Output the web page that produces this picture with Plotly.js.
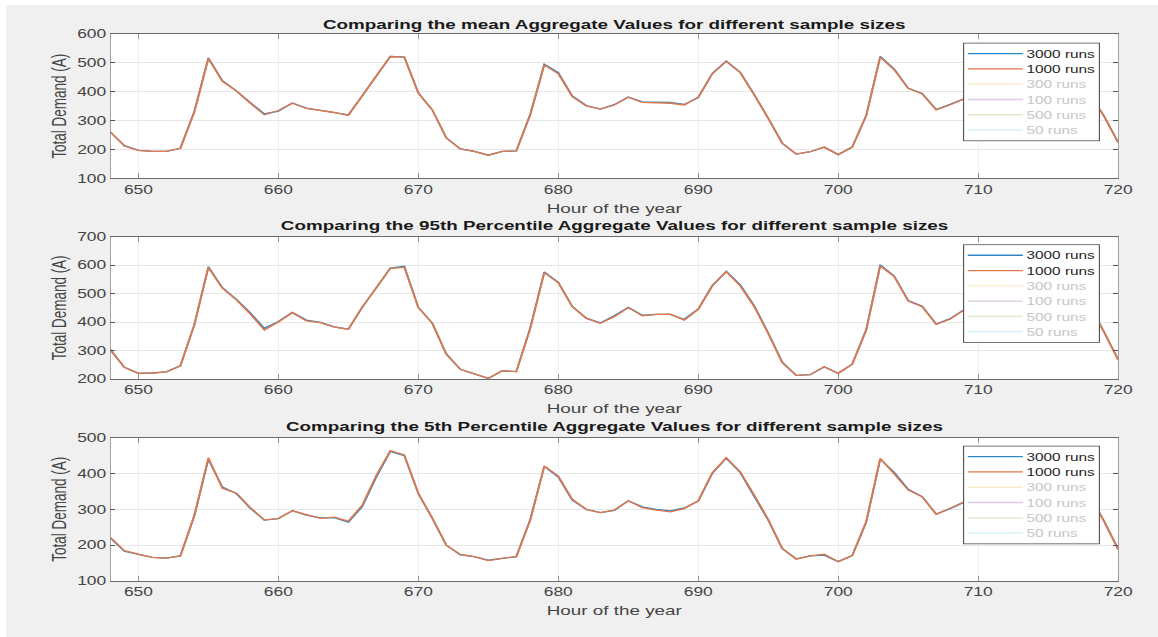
<!DOCTYPE html>
<html>
<head>
<meta charset="utf-8">
<script src="https://cdn.plot.ly/plotly-3.0.1.min.js"></script>
<style>
  html, body { margin: 0; padding: 0; background: #ffffff; overflow: hidden; width: 1158px; height: 637px; }
  #plot { position: absolute; left: 6px; top: 5px; transform-origin: 0 0; }
</style>
</head>
<body>
<div id="plot"></div>
<script>
// ---------------- DATA ----------------
const hours = [648,649,650,651,652,653,654,655,656,657,658,659,660,661,662,663,664,665,666,667,668,669,
  670,671,672,673,674,675,676,677,678,679,680,681,682,683,684,685,686,687,688,689,690,691,692,693,694,695,
  696,697,698,699,700,701,702,703,704,705,706,707,708,709,710,711,712,713,714,715,716,717,718,719,720];

// Mean aggregate values
const mean1000 = [260,212,197,193,193,204,330,515,436,402,360,320,335,360,342,335,328,318,387,455,522,520,
  395,337,240,202,193,180,193,195,320,493,462,383,351,340,354,381,363,361,360,354,381,462,505,466,389,308,
  221,184,192,208,182,208,316,520,476,412,392,337,355,375,365,362,360,355,380,460,505,465,390,314,224];
const mean3000 = [260,213,197,193,193,204,332,517,438,403,362,323,333,361,343,335,328,320,386,454,522,520,
  396,337,240,202,193,180,193,195,322,495,466,385,352,340,355,382,365,364,363,356,380,463,506,467,390,308,
  222,184,192,208,182,208,318,522,478,412,394,338,356,376,366,363,361,356,381,461,506,466,391,315,225];

// 95th percentile aggregate values
const p95_1000 = [302,241,220,221,225,246,390,592,519,478,428,372,400,433,404,398,382,375,454,520,589,592,
  451,396,287,234,218,202,229,226,378,574,538,454,413,396,419,451,422,427,428,407,445,527,577,527,454,360,
  257,213,215,243,220,252,372,597,560,474,454,392,411,442,425,428,430,410,448,530,580,530,455,364,267];
const p95_3000 = [303,241,220,221,225,246,392,594,521,480,432,378,402,434,407,399,383,375,452,522,590,596,
  452,396,288,234,218,202,229,226,380,576,540,455,414,397,422,452,424,427,427,410,446,528,578,531,457,362,
  259,213,215,243,220,252,373,601,562,476,456,393,412,444,426,429,431,411,449,531,581,531,456,365,268];

// 5th percentile aggregate values
const p5_1000 = [221,185,175,166,164,170,284,444,359,345,305,270,275,296,285,275,278,267,312,395,464,452,
  345,275,200,174,168,157,163,168,270,421,393,328,300,291,298,324,305,298,293,302,324,402,444,405,340,272,
  191,161,170,175,154,171,266,442,399,354,335,286,303,321,305,298,295,300,322,400,440,402,338,266,188];
const p5_3000 = [220,183,174,166,164,170,282,440,362,344,303,270,274,296,284,276,277,264,308,390,462,450,
  344,275,200,173,168,158,163,168,272,420,390,326,300,291,297,324,307,300,296,304,323,400,443,403,336,270,
  190,162,170,172,154,171,264,440,403,356,335,287,302,320,306,299,296,301,321,399,441,401,337,267,189];

const seriesNames = ['3000 runs','1000 runs','300 runs','100 runs','500 runs','50 runs'];
const seriesColors = ['#2E86C8','#E2774A','#EDB120','#7E2F8E','#77AC30','#4DBEEE'];

const panelTitles = [
  'Comparing the mean Aggregate Values for different sample sizes',
  'Comparing the 95th Percentile Aggregate Values for different sample sizes',
  'Comparing the 5th Percentile Aggregate Values for different sample sizes'
];
const yRanges = [[100,600],[200,700],[100,500]];
const xTicks = [650,660,670,680,690,700,710,720];
const xLabel = 'Hour of the year';
const yLabel = 'Total Demand (A)';

// ---------------- RENDER SCALING (reference image is stretched horizontally) ----------------
const S = 2;                   // vertical oversampling
const KX = 1.45 / S;           // horizontal css scale
const KY = 1 / S;              // vertical css scale
const PAGE_W = 1152.75, PAGE_H = 632;
const RW = PAGE_W / KX, RH = PAGE_H / KY;
const hx = v => v / KX;        // page px (horizontal) -> render px
const vy = v => v * S;         // page px (vertical)   -> render px
const plotDiv = document.getElementById('plot');
plotDiv.style.width = RW + 'px';
plotDiv.style.height = RH + 'px';
plotDiv.style.transform = 'scale(' + KX + ',' + KY + ')';

// ---------------- BUILD ----------------
const panels = [[mean3000, mean1000],[p95_3000, p95_1000],[p5_3000, p5_1000]];
const FONT = '"Liberation Sans", Arial, Helvetica, sans-serif';
const traces = [];
panels.forEach((pair, p) => {
  const sfx = p === 0 ? '' : String(p + 1);
  seriesNames.forEach((nm, i) => {
    const hasData = i < 2;
    traces.push({
      type: 'scatter', mode: 'lines',
      x: hasData ? hours : [null],
      y: hasData ? pair[i] : [null],
      name: hasData ? nm : '<span style="color:#c6c6c6">' + nm + '</span>',
      xaxis: 'x' + sfx, yaxis: 'y' + sfx,
      legend: 'legend' + sfx,
      showlegend: true,
      line: { color: seriesColors[i], width: 2.6 },
      opacity: hasData ? 1 : 0.25,
      hoverinfo: 'skip'
    });
  });
});

const domainsY = [[0.7362, 1], [0.3693, 0.6294], [0, 0.2620]];
const titleY = [1.0165, 0.649, 0.2815];
const legendY = [0.9841, 0.6155, 0.2473];

const layout = {
  width: RW, height: RH,
  margin: { l: hx(104.5), r: hx(40.75), t: vy(29), b: vy(56) },
  paper_bgcolor: '#f0f0f0',
  plot_bgcolor: '#ffffff',
  font: { family: FONT, color: '#404040', size: vy(12) },
  showlegend: true,
  annotations: [],
  hovermode: false
};

for (let p = 0; p < 3; p++) {
  const sfx = p === 0 ? '' : String(p + 1);
  layout['xaxis' + sfx] = {
    domain: [0, 1], anchor: 'y' + sfx,
    range: [648, 720], tickvals: xTicks, ticktext: xTicks.map(String),
    ticks: 'inside', ticklen: vy(5), tickcolor: '#555555', tickwidth: 1,
    showline: true, linecolor: '#6a6a6a', linewidth: 2, mirror: 'ticks',
    showgrid: true, gridcolor: '#e6e6e6', gridwidth: 1, zeroline: false,
    tickfont: { family: FONT, size: vy(12), color: '#444444' },
    title: { text: xLabel, font: { family: FONT, size: vy(13), color: '#444444' }, standoff: vy(8) }
  };
  layout['yaxis' + sfx] = {
    domain: domainsY[p], anchor: 'x' + sfx,
    range: yRanges[p], dtick: 100,
    ticks: 'inside', ticklen: hx(5), tickcolor: '#555555', tickwidth: 2,
    showline: true, linecolor: '#6a6a6a', linewidth: 1, mirror: 'ticks',
    showgrid: true, gridcolor: '#e6e6e6', gridwidth: 2, zeroline: false,
    tickfont: { family: FONT, size: vy(12), color: '#444444' },
    title: { text: yLabel, font: { family: FONT, size: vy(13.5), color: '#444444' }, standoff: hx(5) }
  };
  layout[p === 0 ? 'legend' : 'legend' + sfx] = {
    x: 0.982, y: legendY[p], xanchor: 'right', yanchor: 'top',
    xref: 'paper', yref: 'paper',
    bgcolor: '#ffffff', bordercolor: '#555555', borderwidth: 1.6,
    font: { family: FONT, size: vy(10.6), color: '#262626' },
    itemwidth: 76,
    tracegroupgap: 0
  };
  layout.annotations.push({
    xref: 'paper', yref: 'paper', x: 0.5, y: titleY[p], xanchor: 'center', yanchor: 'middle',
    showarrow: false, text: '<b>' + panelTitles[p] + '</b>',
    font: { family: FONT, size: vy(13), color: '#1a1a1a' }
  });
}

Plotly.newPlot('plot', traces, layout, { displayModeBar: false, staticPlot: true, responsive: false });
</script>
</body>
</html>
